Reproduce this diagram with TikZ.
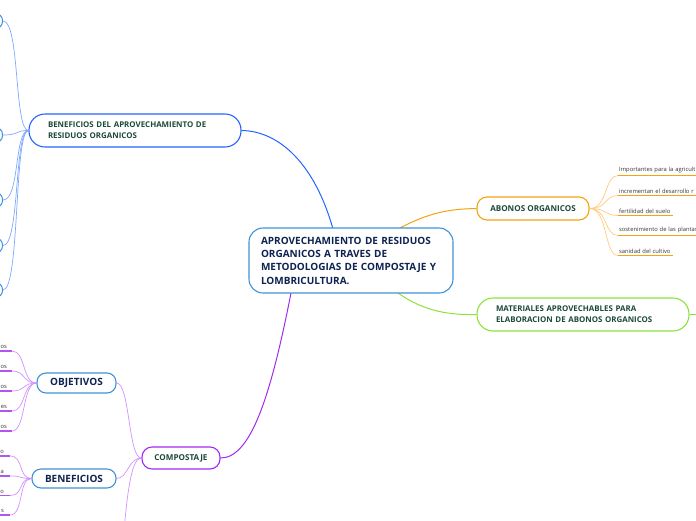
\documentclass[tikz,border=0pt]{standalone}
\usepackage{fontspec}
\setmainfont{Open Sans}
\definecolor{navy}{HTML}{0E2350}
\definecolor{dgreen}{HTML}{1C4A38}
\definecolor{cblue}{HTML}{3F93D6}
\definecolor{bblue}{HTML}{2563FF}
\definecolor{lblue}{HTML}{7FA8FF}
\definecolor{orng}{HTML}{F5A312}
\definecolor{lorng}{HTML}{FFCB7A}
\definecolor{grn}{HTML}{8CE23C}
\definecolor{purp}{HTML}{A02BF0}
\definecolor{lpurp}{HTML}{D391FF}
\definecolor{leaftxt}{HTML}{333333}
\tikzset{
  box/.style={draw, rounded corners=#1, line width=1.1pt, fill=white, inner sep=0pt},
  central/.style={box=14pt, draw=cblue, text=navy, font=\fontsize{10}{13.3}\selectfont\bfseries, align=left, text width=180pt, minimum width=204pt, minimum height=65pt},
  mainbox/.style={box=16pt, text=dgreen, font=\fontsize{7.9}{11}\selectfont\bfseries, align=left, text width=174pt, minimum width=212pt, minimum height=33pt},
  smallbox/.style={box=10pt, text=dgreen, font=\fontsize{8.1}{9}\selectfont\bfseries},
  subbox/.style={box=9pt, draw=cblue, text=navy, font=\fontsize{10}{11}\selectfont\bfseries},
  stub/.style={draw=cblue, rounded corners=7pt, line width=1pt, minimum width=43pt, minimum height=15pt, inner sep=0pt},
  leaf/.style={text=leaftxt, font=\fontsize{5.8}{7}\selectfont, inner xsep=1pt, inner ysep=2pt, align=left},
  bline/.style={draw=lblue, line width=0.7pt},
  oline/.style={draw=lorng, line width=0.7pt},
  pline/.style={draw=lpurp, line width=0.7pt},
  oul/.style={draw=orng, line width=1.8pt},
  pul/.style={draw=purp!80, line width=1.8pt},
}
\begin{document}
\begin{tikzpicture}[x=1pt,y=-1pt]
\useasboundingbox (0,0) rectangle (696,520);
\clip (0,0) rectangle (696,520);

\coordinate (ctop) at (333,229);
\coordinate (cor) at (398,229);
\coordinate (cgr) at (398,293);
\coordinate (cpu) at (291,293);

\node[mainbox, draw=bblue] (bdel) at (135,130.5) {BENEFICIOS DEL APROVECHAMIENTO DE\\RESIDUOS ORGANICOS};
\node[smallbox, draw=orng, minimum width=112pt, minimum height=23pt] (abonos) at (533,208.5) {ABONOS ORGANICOS};
\node[mainbox, draw=grn] (mat) at (583,314.5) {MATERIALES APROVECHABLES PARA\\ELABORACION DE ABONOS ORGANICOS};
\node[smallbox, draw=purp, minimum width=78pt, minimum height=22pt] (comp) at (181,458) {COMPOSTAJE};
\node[subbox, minimum width=79pt, minimum height=20pt] (obj) at (76.5,383) {OBJETIVOS};
\node[subbox, minimum width=84pt, minimum height=19pt] (ben) at (74,478.5) {BENEFICIOS};

\draw[draw=bblue, line width=1pt] (ctop) .. controls (315,165) and (280,131) .. (bdel.east);
\draw[draw=orng, line width=1pt] (cor) .. controls (430,212) and (450,209) .. (abonos.west);
\draw[draw=grn, line width=1pt] (cgr) .. controls (425,312) and (450,315) .. (mat.west);
\draw[draw=purp, line width=1pt] (cpu) .. controls (270,400) and (250,458) .. (comp.east);

\node[central] (c) at (351,260.5) {APROVECHAMIENTO DE RESIDUOS\\ORGANICOS A TRAVES DE\\METODOLOGIAS DE COMPOSTAJE Y\\LOMBRICULTURA.};

% BENEFICIOS DEL ... children (cut off at left)
\foreach \i/\y in {1/21,2/135,3/200,4/245.5,5/290}{
  \node[stub, anchor=east] (b\i) at (3,\y) {};
  \draw[bline] (bdel.west) .. controls (14,130.5) and (20,\y) .. (b\i.east);
}

% ABONOS ORGANICOS children
\node[leaf, anchor=south west, text width=90pt] (a1) at (618,175.5) {Importantes para la agricult};
\node[leaf, anchor=south west, text width=90pt] (a2) at (618,195.5) {incrementan el desarrollo r};
\node[leaf, anchor=south west, text width=53pt] (a3) at (618,215.5) {fertilidad del suelo};
\node[leaf, anchor=south west, text width=90pt] (a4) at (618,235.5) {sostenimiento de las plantas};
\node[leaf, anchor=south west, text width=53pt] (a5) at (618,255.5) {sanidad del cultivo};
\foreach \i in {1,...,5}{
  \draw[oline] (abonos.east) .. controls (608,208.5) and (604,0|-a\i.south west) .. (a\i.south west);
  \draw[oul] (a\i.south west) -- (a\i.south east);
}

% MATERIALES child (off picture)
\coordinate (m1) at (730,314.5);
\draw[draw=grn, line width=0.8pt] (mat.east) -- (m1);

% COMPOSTAJE children
\coordinate (c3) at (120,580);
\draw[pline] (comp.west) .. controls (128,458) and (130,383) .. (obj.east);
\draw[pline] (comp.west) .. controls (128,458) and (128,478.5) .. (ben.east);
\draw[pline] (comp.west) .. controls (130,458) and (126,500) .. (c3);

% OBJETIVOS children (cut off)
\foreach \i/\y/\t in {1/351/os,2/371/os,3/391/os,4/411/es,5/431/os}{
  \node[leaf, anchor=south east, text width=46pt, align=right, inner xsep=5pt] (o\i) at (12,\y) {\t};
  \draw[pline] (obj.west) .. controls (22,383) and (26,\y) .. (o\i.south east);
  \draw[pul] (o\i.south west) -- (o\i.south east);
}
% BENEFICIOS children (cut off)
\foreach \i/\y/\t in {1/456/o,2/476/a,3/495.5/o,4/515/s}{
  \node[leaf, anchor=south east, text width=46pt, align=right, inner xsep=6pt] (p\i) at (10,\y) {\t};
  \draw[pline] (ben.west) .. controls (18,478.5) and (24,\y) .. (p\i.south east);
  \draw[pul] (p\i.south west) -- (p\i.south east);
}
\end{tikzpicture}
\end{document}
